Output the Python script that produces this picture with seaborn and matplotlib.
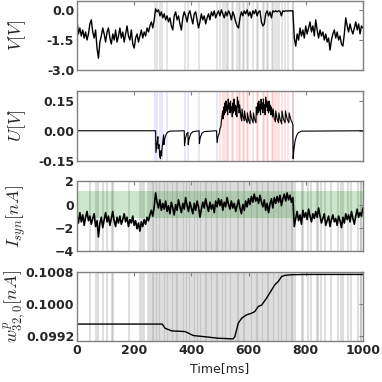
import numpy as np
import matplotlib
matplotlib.use("Agg")
import matplotlib.pyplot as plt
from matplotlib.ticker import FormatStrFormatter
import seaborn as sns

# membrane potential V, sampled every 5 ms (0..1000)
v_values = [
    -0.5, -1.2, -0.9, -1.3, -1.0, -1.4, -1.1, -1.5, -1.2, -0.7,    # 0
    -0.5, -1.1, -1.4, -1.0, -1.9, -2.4, -1.6, -1.3, -0.9, -1.2,    # 50
    -1.6, -1.1, -0.9, -1.4, -1.7, -1.2, -1.5, -1.0, -1.6, -1.3,    # 100
    -0.9, -1.4, -1.1, -1.6, -1.2, -0.8, -1.3, -1.5, -1.0, -1.7,    # 150
    -1.9, -1.4, -1.2, -1.6, -1.3, -1.0, -1.4, -1.1, -1.3, -0.9,    # 200
    -1.1, -0.8, -0.6, -0.9, -0.5, 0.05, -0.1, 0.0, -0.3, -0.1,     # 250
    -0.4, -0.2, -0.5, -0.3, -0.6, -0.4, -0.8, -1.0, -0.3, -0.1,    # 300
    -0.5, -0.3, -0.7, -1.0, -0.4, -0.1, -0.3, -0.6, -0.2, -0.05,   # 350
    -0.4, -0.7, -0.2, -0.1, -0.5, -0.9, -0.6, -0.2, -0.5, -0.3,    # 400
    -0.7, -0.4, -0.2, -0.5, -0.1, -0.3, -0.05, -0.4, -0.2, -0.05,  # 450
    -0.3, 0.0, -0.2, -0.4, -0.1, -0.3, -0.05, -0.2, -0.5, -0.1,    # 500
    -0.3, -0.6, -0.8, -0.9, -0.4, -0.1, -0.3, -0.05, -0.2, 0.0,    # 550
    -0.3, -0.1, -0.4, -0.05, -0.2, 0.0, -0.3, -0.1, -0.05, -0.6,   # 600
    -0.8, -0.7, -0.2, -0.05, -0.3, -0.1, -0.4, -0.05, -0.1, -0.05, # 650
    -0.1, -0.05, -0.07, -0.3, -0.05, -0.08, -0.05, -0.06, -0.05, -0.05,  # 700
    -0.05, -0.05, -1.4, -1.8, -1.2, -1.5, -0.9, -1.3, -1.0, -1.4,  # 750
    -0.8, -1.2, -0.9, -0.6, -1.1, -0.8, -1.3, -0.5, -1.0, -1.4,    # 800
    -1.0, -1.3, -1.1, -1.5, -1.2, -1.6, -1.4, -2.0, -1.5, -1.2,    # 850
    -1.0, -1.4, -1.1, -1.5, -1.3, -1.7, -1.8, -1.2, -0.4, -0.8,    # 900
    -1.1, -0.7, -1.0, -1.2, -0.9, -0.6, -1.0, -0.7, -1.2, -0.8,    # 950
    -0.9,
]

# synaptic current, every 5 ms
isyn_values = [
    -1.0, -1.6, -0.7, -1.5, -0.9, -1.8, -1.1, -0.6, -1.4, -1.0,
    -1.7, -1.2, -0.8, -1.9, -1.4, -2.8, -1.6, -1.1, -2.0, -1.3,
    -0.7, -1.5, -1.0, -1.8, -1.2, -0.6, -1.4, -1.9, -1.1, -1.6,
    -1.0, -1.7, -1.3, -0.8, -1.5, -1.1, -1.9, -1.3, -1.6, -1.0,
    -1.8, -1.4, -2.1, -1.6, -2.3, -1.5, -1.9, -1.3, -1.7, -1.1,
    -1.4, -0.9, -0.5, -1.0, -0.2, 1.0, 0.2, -0.3, 0.4, -0.5,
    0.1, -0.4, 0.3, -0.6, -0.1, -0.8, 0.2, -0.3, -0.9, 0.0,
    -0.5, 0.4, -0.2, -0.7, 0.1, -0.4, 0.6, -0.1, -0.6, 0.2,
    -0.3, -0.8, 0.1, -0.5, 0.3, -0.2, -1.1, -0.4, 0.2, -0.3,
    0.5, -0.1, -0.6, 0.2, -0.4, 0.0, -0.7, 0.3, -0.2, 0.5,
    -0.1, 0.4, -0.5, 0.2, -0.2, 0.6, 0.0, -0.4, 0.3, -0.3,
    0.1, -0.6, -0.1, 0.4, -0.3, -0.8, 0.0, -0.5, 0.3, -0.2,
    0.5, 0.0, 0.7, 0.2, 0.9, 0.3, 0.6, 0.1, 0.8, 0.2,
    -0.2, 0.4, -0.5, 0.1, -0.7, 0.0, 0.5, -0.3, 0.6, 0.1,
    0.7, 0.2, 0.8, -0.1, 0.5, 0.9, 0.3, 1.0, 0.4, 0.8,
    0.2, 0.6, -1.9, -1.2, -0.6, -1.4, -0.9, -1.7, -0.5, -1.1,
    -0.7, -1.3, -0.4, -1.0, -1.5, -0.8, -1.2, -0.6, -1.1, -0.3,
    -1.0, -1.6, -1.2, -0.8, -1.8, -1.4, -1.0, -1.9, -1.3, -0.9,
    -1.5, -1.2, -1.8, -1.0, -1.4, -2.0, -1.1, -1.6, -0.8, -1.3,
    -0.9, -1.5, -0.6, -1.2, -1.7, -1.0, -0.4, -1.1, -0.7, -1.0,
    -0.3,
]

# U trace (time in ms, value in V), irregular sampling
u_time = [0, 270, 275, 276, 280, 283, 284, 287, 289, 292, 294, 296, 298, 301, 303, 304,
          307, 311, 316, 325, 370, 375, 376, 379, 384, 388, 389, 392, 398, 405, 427, 428,
          431, 437, 445, 488, 490, 493, 498, 500, 503, 506, 509, 511, 513, 515, 517, 519,
          521, 523, 525, 527, 529, 531, 533, 535, 537, 539, 541, 543, 545, 547, 549, 551,
          553, 555, 557, 559, 561, 563, 565, 567, 569, 573, 576, 577, 581, 585, 586, 590,
          595, 596, 601, 605, 606, 611, 616, 617, 622, 626, 627, 630, 632, 634, 636, 638,
          640, 642, 644, 646, 648, 650, 652, 654, 656, 658, 660, 662, 664, 666, 668, 670,
          672, 674, 676, 678, 680, 684, 686, 690, 694, 695, 700, 705, 706, 711, 716, 717,
          722, 728, 729, 735, 741, 742, 748, 753, 755, 756, 759, 763, 768, 774, 785, 1000]
u_values = [0.0, 0.0, 0.0, -0.11, -0.06, -0.03, -0.09, -0.07, -0.13, -0.14, -0.10, -0.125, -0.08, -0.045, -0.02, -0.07,
            -0.04, -0.02, -0.008, -0.002, 0.0, 0.0, -0.075, -0.04, -0.015, -0.008, -0.07, -0.04, -0.015, -0.005, 0.0, -0.065,
            -0.035, -0.012, -0.004, 0.0, -0.06, -0.03, -0.01, 0.01, 0.02, 0.06, 0.10, 0.06, 0.12, 0.08, 0.14, 0.09,
            0.15, 0.10, 0.13, 0.08, 0.16, 0.11, 0.14, 0.09, 0.15, 0.10, 0.12, 0.07, 0.14, 0.09, 0.16, 0.10,
            0.13, 0.08, 0.12, 0.07, 0.17, 0.12, 0.15, 0.09, 0.13, 0.07, 0.05, 0.11, 0.07, 0.05, 0.10, 0.06,
            0.04, 0.09, 0.05, 0.035, 0.10, 0.06, 0.04, 0.09, 0.055, 0.04, 0.12, 0.08, 0.14, 0.09, 0.15, 0.10,
            0.13, 0.08, 0.16, 0.11, 0.14, 0.09, 0.16, 0.11, 0.13, 0.08, 0.17, 0.12, 0.15, 0.10, 0.14, 0.09,
            0.15, 0.10, 0.13, 0.08, 0.12, 0.07, 0.11, 0.06, 0.045, 0.10, 0.06, 0.04, 0.09, 0.055, 0.035, 0.10,
            0.06, 0.04, 0.10, 0.06, 0.04, 0.09, 0.055, 0.04, 0.03, -0.14, -0.09, -0.05, -0.025, -0.01, -0.002, 0.0]

# weight w^p_{32,0}
w_time = [0, 298, 308, 331, 378, 407, 442, 494, 546, 552, 564, 576, 593, 611, 622,
          634, 646, 663, 681, 692, 704, 716, 727, 750, 800, 1000]
w_values = [0.09949, 0.09949, 0.099385, 0.099318, 0.099301, 0.0992, 0.099175, 0.099133,
            0.099116, 0.09917, 0.099512, 0.099638, 0.099722, 0.099764, 0.099806,
            0.099933, 0.09997, 0.100143, 0.100354, 0.10048, 0.100564, 0.10069,
            0.100716, 0.100733, 0.10074, 0.10074]

# output neuron spikes: hyperpolarising (blue) and depolarising (red)
spikes_neg = [272, 279, 289, 296, 314, 376, 389, 428, 490, 756]
spikes_pos = [500, 509, 517, 525, 529, 541, 547, 558, 568, 570, 582, 584, 596, 599,
              617, 629, 634, 649, 654, 663, 669, 681, 686, 692, 699, 707, 716, 727,
              739, 754]

# input spikes of neuron 32
in_spikes = [45, 65, 72, 92, 104, 121, 125, 182, 220, 226, 234, 247,
             255, 261, 266, 271, 277, 281, 288, 292, 297, 305, 309, 314, 318, 326,
             331, 335, 342, 348, 351, 358, 364, 369, 373, 380, 385, 391, 395, 402,
             408, 411, 418, 424, 429, 432, 440, 446, 450, 455, 463, 468, 472, 479,
             485, 490, 494, 501, 508, 512, 518, 522, 528, 536, 540, 545, 551, 558,
             562, 567, 573, 580, 585, 589, 596, 602, 607, 611, 618, 625, 629, 634,
             640, 647, 651, 656, 663, 669, 673, 679, 686, 690, 695, 702, 708, 712,
             718, 725, 730, 734, 741, 747, 751, 757, 763,
             786, 791, 809, 818, 838, 844, 855, 867, 890, 914, 925, 931, 949, 960,
             984, 992, 995]

t5 = np.arange(len(v_values)) * 5.0

sns.set_style("white")
plt.rcParams['mathtext.fontset'] = 'cm'
plt.rcParams['font.family'] = ['DejaVu Sans']

fig, axs = plt.subplots(4, 1, figsize=(3.82, 3.82), dpi=100, sharex=True)
plt.subplots_adjust(left=0.2016, right=0.95, top=0.998, bottom=0.107, hspace=0.30)

# panel 1: V
ax = axs[0]
for s in spikes_neg + spikes_pos:
    ax.axvline(s, color='gray', alpha=0.22, lw=1.3, zorder=0)
sns.lineplot(x=t5, y=v_values, ax=ax, color='k', lw=1.0, estimator=None)
ax.set_ylim(-3.0, 0.45)
ax.set_yticks([-3.0, -1.5, 0.0])
ax.yaxis.set_major_formatter(FormatStrFormatter('%.1f'))
ax.set_ylabel(r'$V[V]$', fontsize=13)

# panel 2: U
ax = axs[1]
for s in spikes_neg:
    ax.axvline(s, color='blue', alpha=0.13, lw=1.1, zorder=0)
for s in spikes_pos:
    ax.axvline(s, color='red', alpha=0.15, lw=1.1, zorder=0)
sns.lineplot(x=u_time, y=u_values, ax=ax, color='k', lw=0.8, estimator=None)
ax.set_ylim(-0.15, 0.2)
ax.set_yticks([-0.15, 0.0, 0.15])
ax.yaxis.set_major_formatter(FormatStrFormatter('%.2f'))
ax.set_ylabel(r'$U[V]$', fontsize=13)

# panel 3: I_syn
ax = axs[2]
for s in in_spikes:
    ax.axvline(s, color='gray', alpha=0.25, lw=1.5, zorder=0)
ax.axhspan(-1.2, 1.2, color='green', alpha=0.2, lw=0, zorder=0)
sns.lineplot(x=t5, y=isyn_values, ax=ax, color='k', lw=1.2, estimator=None)
ax.set_ylim(-4, 2)
ax.set_yticks([-4, -2, 0, 2])
ax.set_ylabel(r'$I_{syn}[nA]$', fontsize=13)

# panel 4: weight
ax = axs[3]
for s in in_spikes:
    ax.axvline(s, color='gray', alpha=0.25, lw=1.5, zorder=0)
sns.lineplot(x=w_time, y=w_values, ax=ax, color='k', lw=1.0, estimator=None)
ax.set_ylim(0.09906, 0.10081)
ax.set_yticks([0.0992, 0.1000, 0.1008])
ax.yaxis.set_major_formatter(FormatStrFormatter('%.4f'))
ax.set_ylabel(r'$w^p_{32,0}[nA]$', fontsize=13)
ax.set_xlabel('Time[ms]', fontsize=9)
ax.set_xlim(0, 1000)
ax.set_xticks([0, 200, 400, 600, 800, 1000])

for ax in axs:
    for sp in ax.spines.values():
        sp.set_color('gray')
        sp.set_linewidth(1.0)
    ax.tick_params(direction='in', top=True, right=True, length=3, labelsize=9,
                   color='gray', pad=2)
    for lbl in ax.get_yticklabels() + ax.get_xticklabels():
        lbl.set_fontweight('bold')
    ax.yaxis.set_label_coords(-0.17, 0.5)

fig.savefig('out.png', dpi=100)
